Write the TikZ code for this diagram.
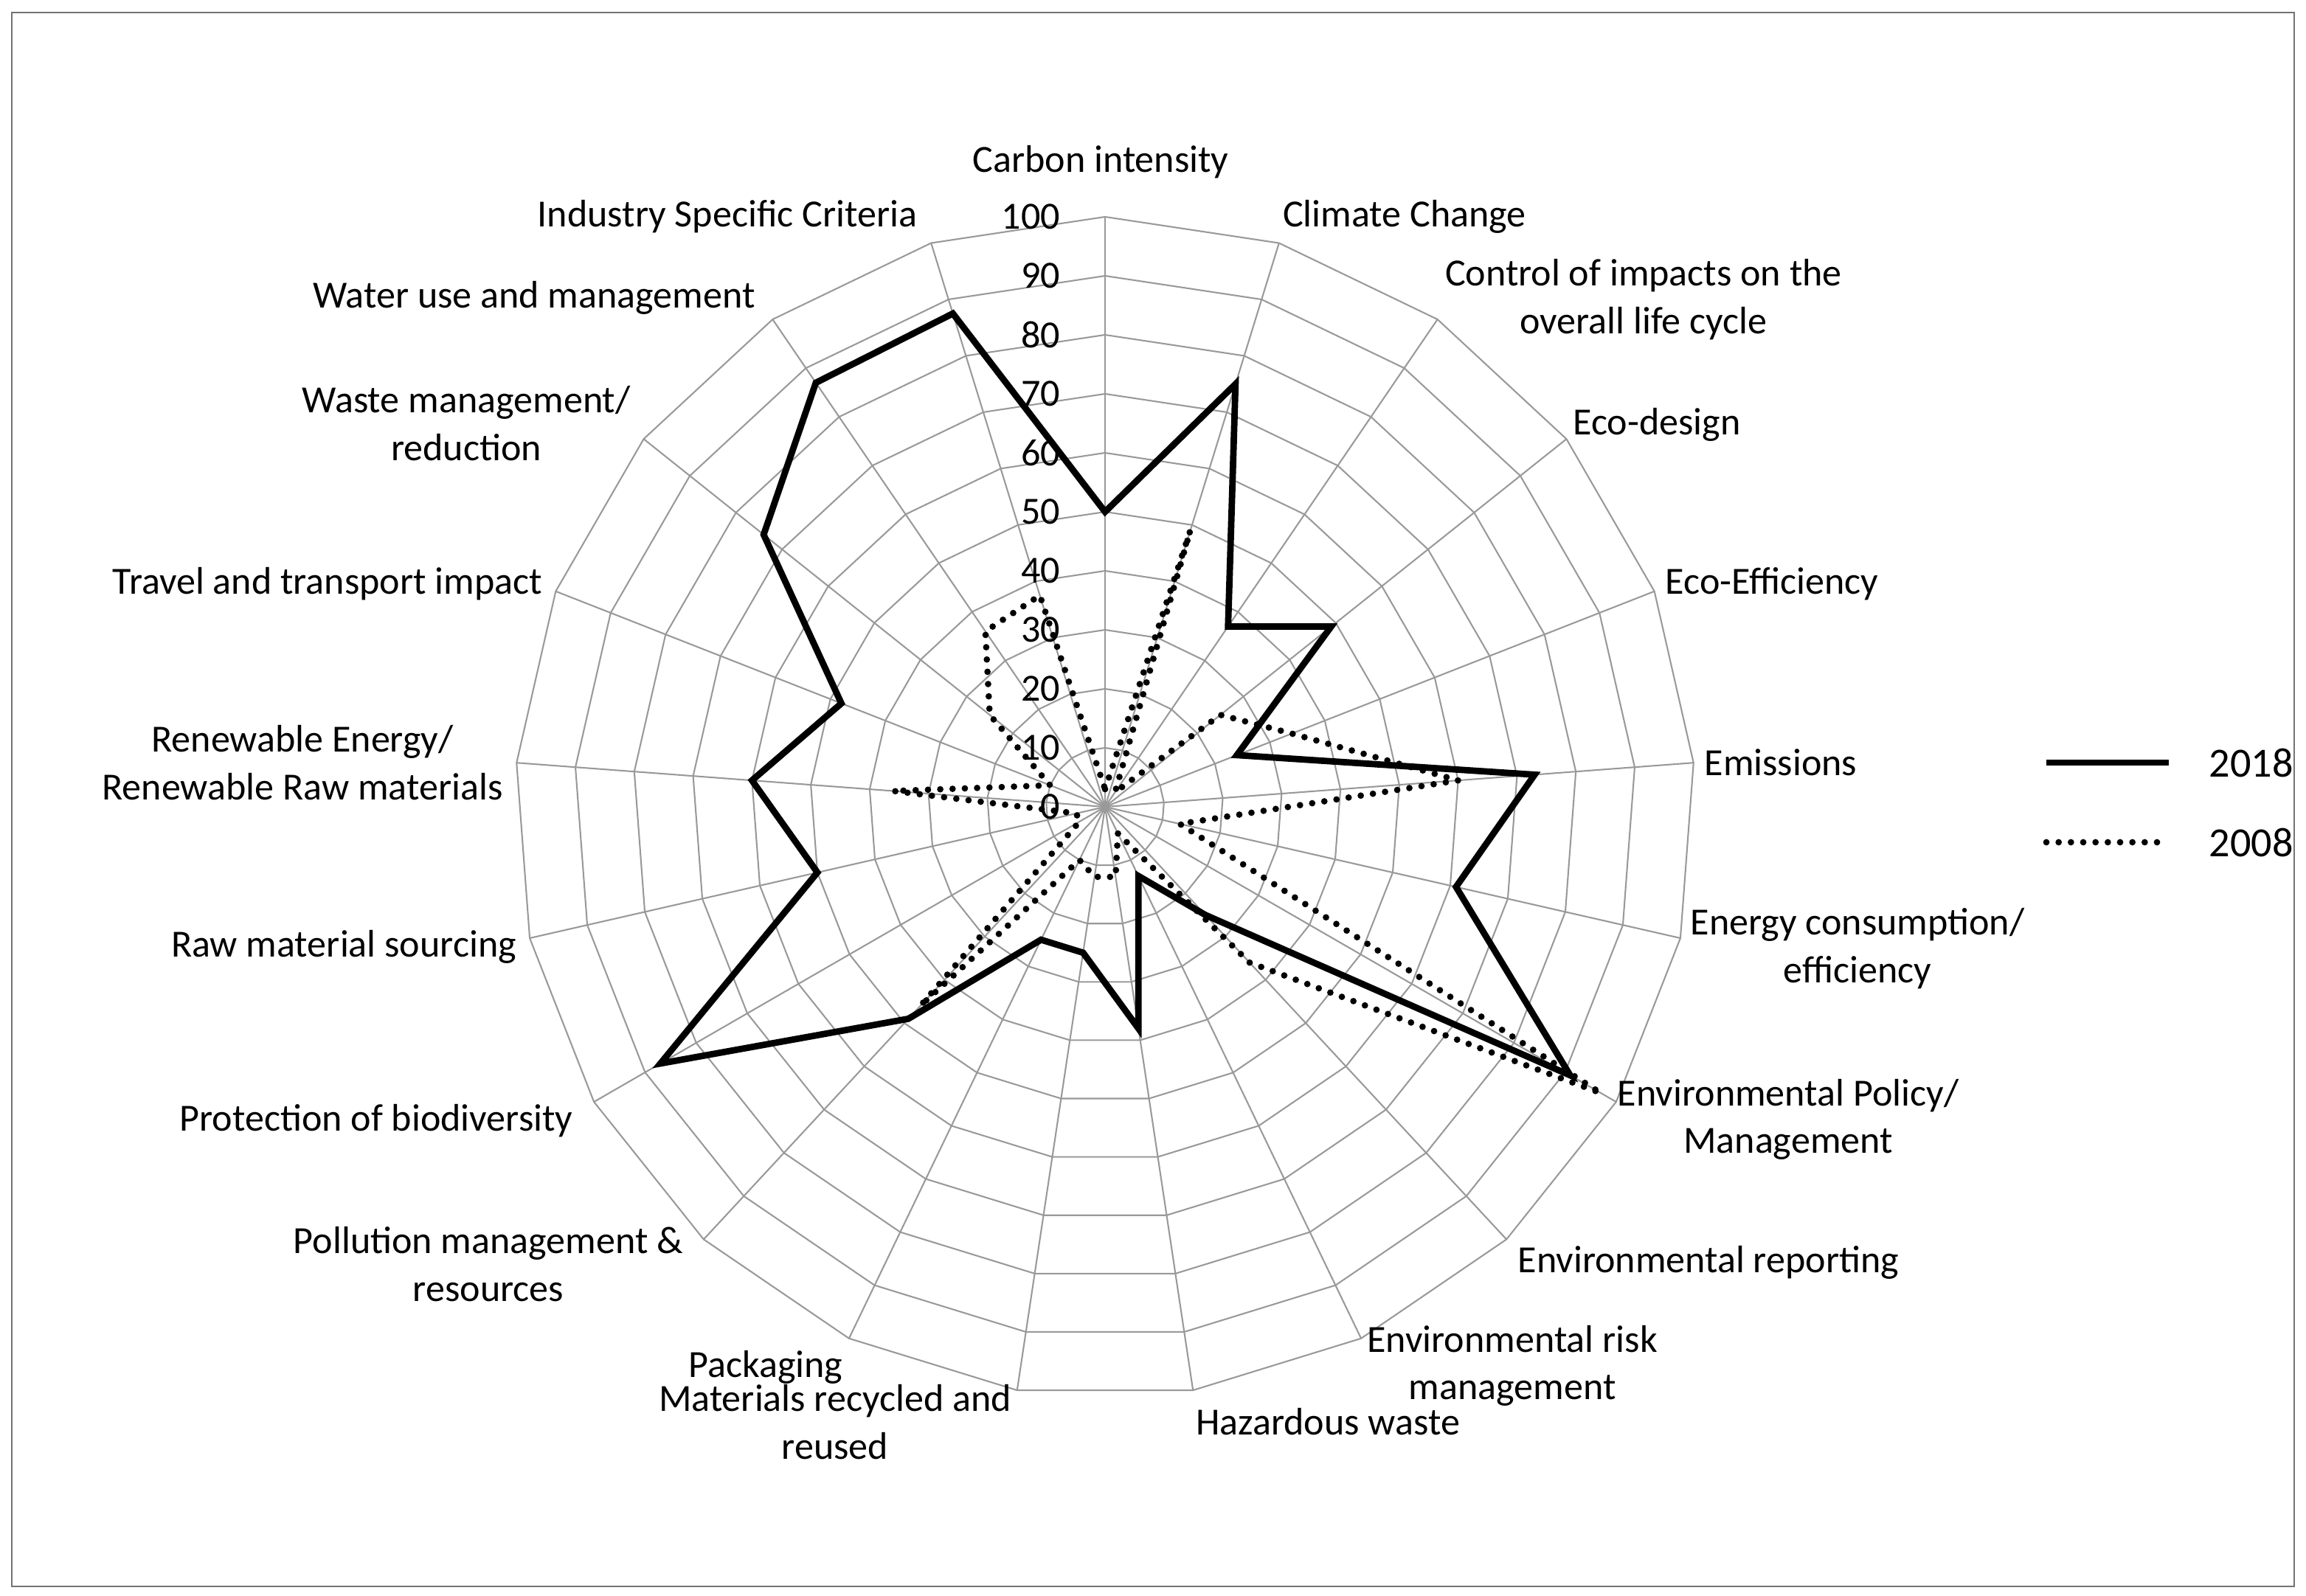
\documentclass[tikz,border=0pt]{standalone}
\usepackage{fontspec}
\setmainfont{Carlito}
\begin{document}
\begin{tikzpicture}[x=0.48pt,y=0.48pt,
  lab/.style={font=\fontsize{12.5}{15.5}\selectfont,align=center,inner sep=0pt},
  tick/.style={font=\fontsize{12.5}{15}\selectfont,anchor=east,inner sep=0pt},
  grid/.style={draw=black!40,line width=0.5pt},
  s18/.style={line width=2.1pt,line join=miter},
  s08/.style={line width=2.1pt,dash pattern=on 0pt off 4pt,line cap=round}]
\useasboundingbox (0,0) rectangle (1563,1081.5);
\draw[draw=black!55,line width=0.6pt] (8,6) rectangle (1555,1073);
\begin{scope}[shift={(749,534.5)}]
  \foreach \l in {1,...,10}{
    \draw[grid] (90:{40*\l}) \foreach \k in {1,...,20}{ -- ({90-\k*360/21}:{40*\l}) } -- cycle;}
  \foreach \k in {0,...,20}{ \draw[grid] (0,0) -- ({90-\k*360/21}:400); }
  \foreach \t in {0,10,...,100}{ \node[tick] (t\t) at (-30,{4*\t}) {\t}; }
  \draw[s18] (90:200) \foreach \v [count=\k from 0] in {50,75,37,49,24,73,61,91,25,13,38,25,25,49,87,50,60,48,74,87,87.5}{ -- ({90-\k*360/21}:{4*\v}) } -- cycle;
  \draw[s08] (90:12) \foreach \v [count=\k from 0] in {3,49,3,25,34,60,13,97,36,5,12,12,10,46,5,5,36,10,25,36,37.5}{ -- ({90-\k*360/21}:{4*\v}) } -- cycle;
\end{scope}
\begin{scope}[shift={(0,1081.5)},y=-0.48pt]
\node[lab] (l0) at (746,110) {Carbon intensity};
\node[lab] (l1) at (952,147) {Climate Change};
\node[lab] (l2) at (1114,203) {Control of impacts on the\\overall life cycle};
\node[lab] (l3) at (1123,288) {Eco-design};
\node[lab] (l4) at (1201,396) {Eco-Efficiency};
\node[lab] (l5) at (1207,517) {Emissions};
\node[lab] (l6) at (1259,643) {Energy consumption/\\efficiency};
\node[lab] (l7) at (1212,759) {Environmental Policy/\\Management};
\node[lab] (l8) at (1158,856) {Environmental reporting};
\node[lab] (l9) at (1025,926) {Environmental risk\\management};
\node[lab] (l10) at (900,964) {Hazardous waste};
\node[lab] (l11) at (566,964) {Materials recycled and\\reused};
\node[lab] (l12) at (519,927) {Packaging};
\node[lab] (l13) at (331,857) {Pollution management \&\\resources};
\node[lab] (l14) at (255,760) {Protection of biodiversity};
\node[lab] (l15) at (233,642) {Raw material sourcing};
\node[lab] (l16) at (205,517) {Renewable Energy/\\Renewable Raw materials};
\node[lab] (l17) at (222,396) {Travel and transport impact};
\node[lab] (l18) at (316,287) {Waste management/\\reduction};
\node[lab] (l19) at (362,202) {Water use and management};
\node[lab] (l20) at (493,147) {Industry Specific Criteria};
\coordinate (a1) at (1387,517); \coordinate (a2) at (1470,517);
\coordinate (b1) at (1387,571); \coordinate (b2) at (1470,571);
\draw[s18] (a1) -- (a2);
\draw[s08] (b1) -- (b2);
\node[lab,anchor=west] (g1) at (1497,517) {\fontsize{13.5}{16}\selectfont 2018};
\node[lab,anchor=west] (g2) at (1497,571) {\fontsize{13.5}{16}\selectfont 2008};
\end{scope}
\end{tikzpicture}
\end{document}
